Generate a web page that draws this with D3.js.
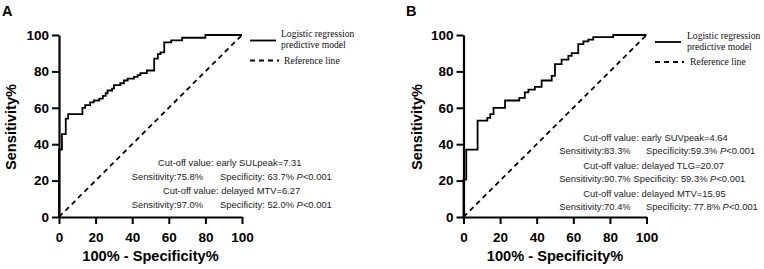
<!DOCTYPE html>
<html><head><meta charset="utf-8">
<script src="https://cdn.jsdelivr.net/npm/d3@7"></script>
<style>body{margin:0;background:#fff}svg{display:block}</style>
</head><body>
<svg id="c" width="764" height="269"></svg>
<script>
// ---- data ----
const axisTicks = [0, 20, 40, 60, 80, 100];
const fprA = [0,0,1.6,3.7,5,12.8,14.3,17,19,22,24,25.5,26.5,29,30,33.5,35.5,37.5,41,43,44.5,48,52,54,55.5,57.5,61.3,67.3,80,100];
const tprA = [0,37,45.5,54,56.5,60,61.5,63,64,65,66.5,68,69.5,70.5,72.5,73.5,75,76,77,78,79,80.5,87,89.5,90.5,96,97,98.5,100,100];
const fprB = [0,0,1.5,7.7,13,14.6,16.4,22.7,30.5,33.5,35.5,39,42.7,48.2,50,53.6,57.3,59.1,62.7,65.5,68.2,70.9,81.8,100];
const tprB = [0,20.5,37,53,54.5,56.5,60,64,65.5,68.5,70,71.5,75,77.5,84,86.5,88.5,90,95,96.5,97.5,98.8,100,100];
const refX = [0, 100];
const refY = [0, 100];
const cutoffA = ["Cut-off value: early SULpeak=7.31", "Cut-off value: delayed MTV=6.27"];
const sensA = ["Sensitivity:75.8%", "Sensitivity:97.0%"];
const specA = ["Specificity: 63.7% ", "Specificity: 52.0% "];
const cutoffB = ["Cut-off value: early SUVpeak=4.64", "Cut-off value: delayed TLG=20.07", "Cut-off value: delayed MTV=15.95"];
const sensB = ["Sensitivity:83.3%", "Sensitivity:90.7%", "Sensitivity:70.4%"];
const specB = ["Specificity:59.3% ", "Specificity: 59.3% ", "Specificity: 77.8% "];
const pLabel = "P";
const pValue = "<0.001";
const legendLabels = [["Logistic regression", "predictive model"], ["Reference line"]];
const xTitle = "100% - Specificity%";
const yTitle = "Sensitivity%";

// ---- layout ----
const svg = d3.select("#c");
svg.append("rect").attr("width", 764).attr("height", 269).attr("fill", "#fff");
const SANS = "'Liberation Sans', Arial, sans-serif";
const SERIF = "'Liberation Serif', 'Times New Roman', serif";

const panels = [
  {letter: "A", lx: 2, x0: 59, fpr: fprA, tpr: tprA, ytx: 11,
   leg: {lx: 250, tx: 281, y1: 40.5, t1: 37, t2: 48, y2: 60.5, t3: 63.5},
   notes: [
     {cut: cutoffA[0], cx: 158, cy: 166, sens: sensA[0], sx: 131.7, spec: specA[0], px: 220, sy: 179.5},
     {cut: cutoffA[1], cx: 163, cy: 194, sens: sensA[1], sx: 131.7, spec: specA[1], px: 220, sy: 207.5}
   ]},
  {letter: "B", lx: 406, x0: 463.5, fpr: fprB, tpr: tprB, ytx: 417,
   leg: {lx: 655, tx: 687, y1: 42, t1: 38.5, t2: 49.5, y2: 62, t3: 65},
   notes: [
     {cut: cutoffB[0], cx: 583.3, cy: 140.5, sens: sensB[0], sx: 559.3, spec: specB[0], px: 646, sy: 154},
     {cut: cutoffB[1], cx: 583.3, cy: 168.5, sens: sensB[1], sx: 559.3, spec: specB[1], px: 633.5, sy: 182},
     {cut: cutoffB[2], cx: 583.3, cy: 196.5, sens: sensB[2], sx: 559.3, spec: specB[2], px: 646, sy: 210}
   ]}
];

const W = 183, H = 182, TOP = 35;

panels.forEach(p => {
  const x = d3.scaleLinear().domain([0, 100]).range([p.x0, p.x0 + W]);
  const y = d3.scaleLinear().domain([0, 100]).range([TOP + H, TOP]);

  // panel letter
  svg.append("text").attr("x", p.lx).attr("y", 15.5).text(p.letter)
    .attr("font-family", SANS).attr("font-weight", "bold").attr("font-size", 14.5).attr("fill", "#000");

  // reference line
  svg.append("path")
    .datum(d3.range(refX.length))
    .attr("d", d3.line().x(i => x(refX[i])).y(i => y(refY[i])))
    .attr("fill", "none").attr("stroke", "#000").attr("stroke-width", 1.8)
    .attr("stroke-dasharray", "5,4");

  // ROC curve
  svg.append("path")
    .datum(d3.range(p.fpr.length))
    .attr("d", d3.line().curve(d3.curveStepAfter).x(i => x(p.fpr[i])).y(i => y(p.tpr[i])))
    .attr("fill", "none").attr("stroke", "#000").attr("stroke-width", 1.8)
    .attr("stroke-linejoin", "miter");

  // axes
  const ax = svg.append("g").attr("transform", `translate(0,${TOP + H})`)
    .call(d3.axisBottom(x).tickValues(axisTicks).tickSize(7).tickPadding(8).tickSizeOuter(0));
  const ay = svg.append("g").attr("transform", `translate(${p.x0},0)`)
    .call(d3.axisLeft(y).tickValues(axisTicks).tickSize(7).tickPadding(3).tickSizeOuter(0));
  [ax, ay].forEach(g => {
    g.select(".domain").attr("stroke", "#000").attr("stroke-width", 2.2);
    g.selectAll(".tick line").attr("stroke", "#000").attr("stroke-width", 2);
    g.selectAll(".tick text").attr("font-family", SANS).attr("font-weight", "bold")
      .attr("font-size", 13.5).attr("fill", "#000");
  });

  // axis titles
  svg.append("text").attr("x", p.x0 + W / 2).attr("y", 261).attr("text-anchor", "middle")
    .attr("font-family", SANS).attr("font-weight", "bold").attr("font-size", 14.6).attr("fill", "#000")
    .text(xTitle);
  svg.append("text").attr("transform", `translate(${p.ytx + 5},${TOP + H / 2 + 1}) rotate(-90)`)
    .attr("text-anchor", "middle")
    .attr("font-family", SANS).attr("font-weight", "bold").attr("font-size", 14.6).attr("fill", "#000")
    .text(yTitle);

  // legend
  const L = p.leg;
  svg.append("line").attr("x1", L.lx).attr("x2", L.lx + 26).attr("y1", L.y1).attr("y2", L.y1)
    .attr("stroke", "#000").attr("stroke-width", 1.8);
  svg.append("line").attr("x1", L.lx).attr("x2", L.lx + 29).attr("y1", L.y2).attr("y2", L.y2)
    .attr("stroke", "#000").attr("stroke-width", 1.8).attr("stroke-dasharray", "5,4");
  const lt = svg.append("g").attr("font-family", SERIF).attr("font-size", 9.6).attr("fill", "#111");
  lt.append("text").attr("x", L.tx).attr("y", L.t1).text(legendLabels[0][0]);
  lt.append("text").attr("x", L.tx).attr("y", L.t2).text(legendLabels[0][1]);
  lt.append("text").attr("x", L.tx + 3).attr("y", L.t3).text(legendLabels[1][0]);

  // annotations
  const ng = svg.append("g").attr("font-family", SANS).attr("font-size", 9.4).attr("fill", "#222")
    .style("white-space", "pre");
  p.notes.forEach(n => {
    ng.append("text").attr("x", n.cx).attr("y", n.cy).text(n.cut);
    ng.append("text").attr("x", n.sx).attr("y", n.sy).text(n.sens);
    const t = ng.append("text").attr("x", n.px).attr("y", n.sy);
    t.append("tspan").text(n.spec);
    t.append("tspan").attr("font-style", "italic").text(pLabel);
    t.append("tspan").text(pValue);
  });
});
</script>
</body></html>
